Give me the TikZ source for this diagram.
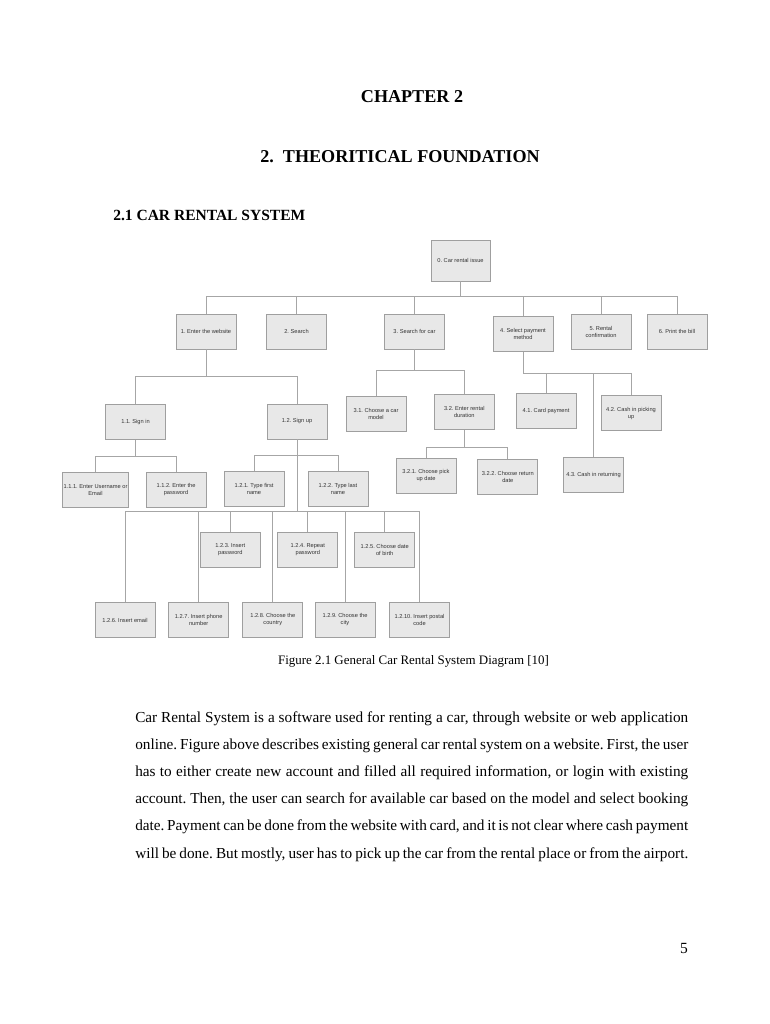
\documentclass[tikz,border=0pt]{standalone}
\usepackage{fontspec}
\setmainfont{Liberation Serif}
\newfontfamily\boxfont{Liberation Sans}
\newcommand\fullline[1]{\hbox to 427.5pt{#1}}
\begin{document}
\frenchspacing
\begin{tikzpicture}[x=0.773pt, y=-0.773pt,
    box/.style={draw=gray!75, fill=gray!18, line width=0.6pt, minimum width=46.5pt, minimum height=27pt,
        inner sep=1pt, align=center, text=black!80, font=\boxfont\fontsize{4.4}{5.4}\selectfont},
    link/.style={draw=gray!70, line width=0.6pt}]
    \useasboundingbox (0,0) rectangle (770,1024);
    % page headings
    \node (chap) at (412,97) {\fontsize{14}{16}\selectfont\bfseries CHAPTER 2};
    \node (title) at (400,157) {\fontsize{14}{16}\selectfont\bfseries 2.\enspace THEORITICAL FOUNDATION};
    \node[anchor=west, inner sep=0pt] (sec) at (113,215) {\fontsize{12}{14}\selectfont\bfseries 2.1 CAR RENTAL SYSTEM};
    % tree
    \node[box, minimum width=45.6pt, minimum height=31.7pt] (r) at (460.5,260.5) {0. Car rental issue};
    \foreach \n/\x/\t in {1/206/{1. Enter the website}, 2/296.5/{2. Search}, 3/414.5/{3. Search for car},
        5/601/{5. Rental\\confirmation}, 6/677/{6. Print the bill}} {
        \node[box] (b\n) at (\x,331.5) {\t};
    }
    \node[box] (b4) at (523,334) {4. Select payment\\method};
    \node[box] (b11) at (135.5,422) {1.1. Sign in};
    \node[box] (b12) at (297,421.5) {1.2. Sign up};
    \node[box] (b31) at (376,414) {3.1. Choose a car\\model};
    \node[box] (b32) at (464.3,411.7) {3.2. Enter rental\\duration};
    \node[box] (b41) at (546,411) {4.1. Card payment};
    \node[box] (b42) at (631,413.3) {4.2. Cash in picking\\up};
    \node[box] (b43) at (593.5,475) {4.3. Cash in returning};
    \node[box] (b111) at (95.5,490) {1.1.1. Enter Username or\\Email};
    \node[box] (b112) at (176,490) {1.1.2. Enter the\\password};
    \node[box] (b121) at (254,489) {1.2.1. Type first\\name};
    \node[box] (b122) at (338,489) {1.2.2. Type last\\name};
    \node[box] (b321) at (426,476) {3.2.1. Choose pick\\up date};
    \node[box] (b322) at (507.8,476.7) {3.2.2. Choose return\\date};
    \foreach \n/\x/\t in {3/230.3/{1.2.3. Insert\\password}, 4/307.8/{1.2.4. Repeat\\password},
        5/384.7/{1.2.5. Choose date\\of birth}} {
        \node[box] (b12\n) at (\x,550) {\t};
    }
    \foreach \n/\x/\t in {6/125/{1.2.6. Insert email}, 7/198.7/{1.2.7. Insert phone\\number},
        8/272.8/{1.2.8. Choose the\\country}, 9/345/{1.2.9. Choose the\\city}, 10/419.5/{1.2.10. Insert postal\\code}} {
        \node[box] (b12\n) at (\x,620) {\t};
    }
    % bus heights
    \coordinate (j0) at (0,296);
    \coordinate (j1) at (0,376.7);
    \coordinate (j3) at (0,370);
    \coordinate (j4) at (0,373);
    \coordinate (j11) at (0,456.7);
    \coordinate (j12) at (0,455.7);
    \coordinate (j32) at (0,447.7);
    \coordinate (j12b) at (0,511.7);
    \foreach \p/\c/\j in {r/b1/j0, r/b2/j0, r/b3/j0, r/b4/j0, r/b5/j0, r/b6/j0,
        b1/b11/j1, b1/b12/j1, b3/b31/j3, b3/b32/j3, b4/b41/j4, b4/b42/j4, b4/b43/j4,
        b11/b111/j11, b11/b112/j11, b12/b121/j12, b12/b122/j12, b32/b321/j32, b32/b322/j32,
        b12/b123/j12b, b12/b124/j12b, b12/b125/j12b, b12/b126/j12b, b12/b127/j12b,
        b12/b128/j12b, b12/b129/j12b, b12/b1210/j12b} {
        \draw[link] (\p.south) -- (\p.south |- \j) -| (\c.north);
    }
    % caption and text
    \node (cap) at (413.5,661) {\fontsize{10}{12}\selectfont Figure 2.1 General Car Rental System Diagram [10]};
    \node[anchor=north west, inner sep=0pt, align=left, font=\fontsize{11.8}{21.05}\selectfont] (para) at (135,711)
        {\fullline{Car Rental System is a software used for renting a car, through website or web application}\\
        \fullline{online. Figure above describes existing general car rental system on a website. First, the user}\\
        \fullline{has to either create new account and filled all required information, or login with existing}\\
        \fullline{account. Then, the user can search for available car based on the model and select booking}\\
        \fullline{date. Payment can be done from the website with card, and it is not clear where cash payment}\\
        \fullline{will be done. But mostly, user has to pick up the car from the rental place or from the airport.}};
    \node (pg) at (684,948) {\fontsize{12}{14}\selectfont 5};
\end{tikzpicture}
\end{document}
